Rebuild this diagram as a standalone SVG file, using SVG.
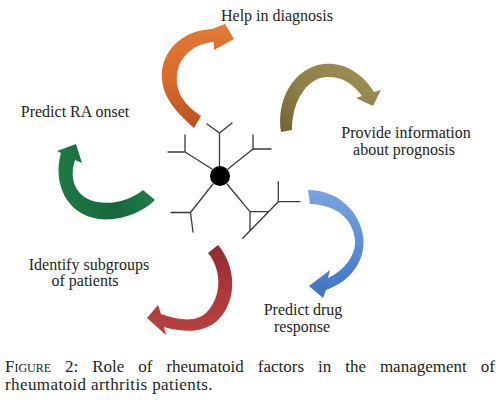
<svg xmlns="http://www.w3.org/2000/svg" width="500" height="400" viewBox="0 0 500 400">
<style>
.lbl{font-family:"Liberation Serif","Times New Roman",serif;font-size:16px;fill:#231f20;text-anchor:middle}
.cap{font-family:"Liberation Serif","Times New Roman",serif;font-size:17px;fill:#231f20}
.sc{font-variant:small-caps}
.bond{stroke:#3a3a3a;stroke-width:1.3;fill:none;stroke-linecap:round;stroke-linejoin:round}
</style>
<defs>
<linearGradient id="gOr" x1="0" y1="0" x2="0" y2="1"><stop offset="0" stop-color="#e27a36"/><stop offset="0.55" stop-color="#d8692a"/><stop offset="1" stop-color="#b9531f"/></linearGradient>
<linearGradient id="gOl" x1="0" y1="1" x2="1" y2="0"><stop offset="0" stop-color="#6f6335"/><stop offset="0.4" stop-color="#8c7e46"/><stop offset="1" stop-color="#a29254"/></linearGradient>
<linearGradient id="gBl" x1="0" y1="0" x2="0" y2="1"><stop offset="0" stop-color="#7aa3de"/><stop offset="0.5" stop-color="#5b8ed6"/><stop offset="1" stop-color="#3f72c2"/></linearGradient>
<linearGradient id="gRd" x1="0" y1="0" x2="0" y2="1"><stop offset="0" stop-color="#8f2b2f"/><stop offset="0.5" stop-color="#ad373b"/><stop offset="1" stop-color="#b9423f"/></linearGradient>
<linearGradient id="gGr" x1="0" y1="0" x2="1" y2="0"><stop offset="0" stop-color="#1d7a45"/><stop offset="0.6" stop-color="#16683b"/><stop offset="1" stop-color="#1f7d48"/></linearGradient>
</defs>
<rect width="500" height="400" fill="#ffffff"/>
<g id="connectors">
<path id="arrow-diagnosis" fill="url(#gOr)" d="M194,128 C176,112 160,95 162,72 C164,48 185,30 212,29 L225,24 L234,39 L214,50 L214,42 C196,43 179,55 177,75 C175,93 186,106 201,116 Z"/>
<path id="arrow-prognosis" fill="url(#gOl)" d="M281,132 C277,105 288,80 308,69 C330,57 358,66 374,92 L381,90 L373,106 L356,98 L362,96 C352,82 340,76 326,77 C308,78 292,100 292,130 Z"/>
<path id="arrow-drug" fill="url(#gBl)" d="M308,190 C335,190 358,208 363,235 C367,260 350,282 326,290 L323,298 L309,286 L330,270 L328,278 C345,270 356,255 355,240 C353,220 338,205 310,204 Z"/>
<path id="arrow-subgroups" fill="url(#gRd)" d="M218,245 C236,266 238,300 218,320 C204,333 185,333 164,327 L166,335 L147,318 L158,305 L161,314 C180,321 198,322 207,312 C222,296 222,270 208,253 Z"/>
<path id="arrow-onset" fill="url(#gGr)" d="M155,200 C135,220 95,228 73,207 C58,192 56,170 61,153 L57,151 L76,144 L82,163 L75,160 C70,175 73,190 86,198 C102,207 127,203 143,190 Z"/>
</g>
<g id="node-rf">
<path class="bond" d="M219.5,166 L219.5,133 M207,124 L219.5,133 L232,123"/>
<path class="bond" d="M212,169 L185,152 M168,152 L185,152 L185,135"/>
<path class="bond" d="M228,169 L253,149 M253,135 L253,149 L271,149"/>
<path class="bond" d="M213,184 L190.5,212.5 M171,212.5 L190.5,212.5 L193,232"/>
<path class="bond" d="M227,184 L250,211.7 L268.5,211.7 M250,211.7 L250,230.8 M278.3,201.7 L242.7,238.3 M278.3,181.7 L278.3,201.7 L300,201.7"/>
<circle cx="220" cy="176" r="10" fill="#000"/>
</g>
<g id="node-diagnosis"><text class="lbl" x="277" y="21">Help in diagnosis</text></g>
<g id="node-prognosis"><text class="lbl" x="406" y="138">Provide information</text><text class="lbl" x="404" y="155">about prognosis</text></g>
<g id="node-onset"><text class="lbl" x="75" y="117">Predict RA onset</text></g>
<g id="node-subgroups"><text class="lbl" x="89" y="270">Identify subgroups</text><text class="lbl" x="85" y="286">of patients</text></g>
<g id="node-drug"><text class="lbl" x="303" y="315">Predict drug</text><text class="lbl" x="302" y="332">response</text></g>
<g id="caption">
<text class="cap" x="5" y="372" word-spacing="9.7"><tspan class="sc">Figure</tspan> 2: Role of rheumatoid factors in the management of</text>
<text class="cap" x="5" y="390" letter-spacing="0.4">rheumatoid arthritis patients.</text>
</g>
</svg>
